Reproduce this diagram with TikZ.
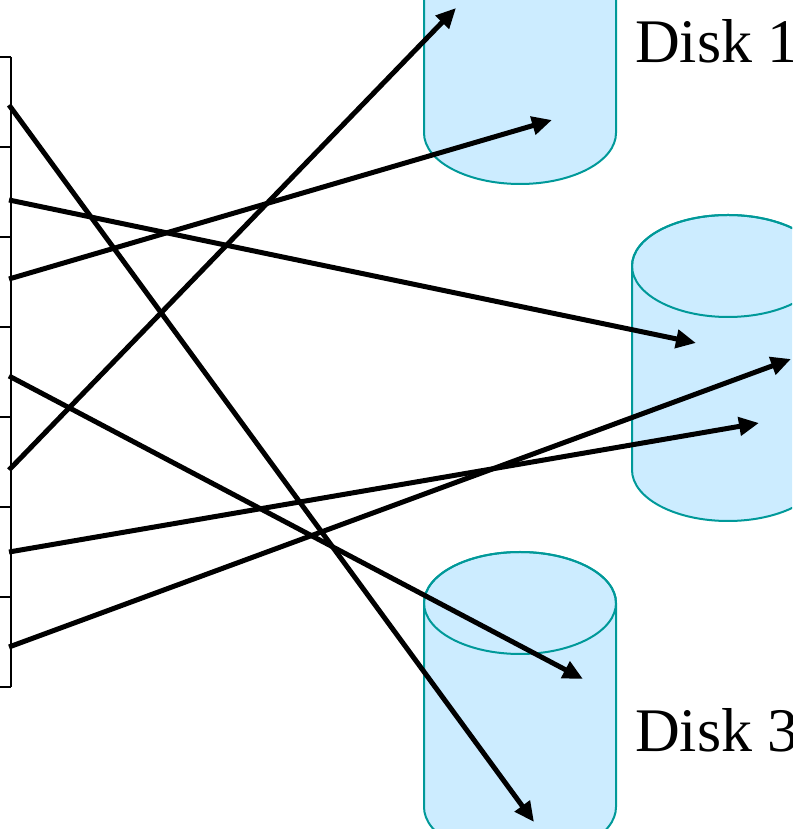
\documentclass[tikz,border=0pt]{standalone}
\usepackage{fontspec}
\setmainfont{Liberation Serif}
\usetikzlibrary{arrows.meta}
\definecolor{diskfill}{RGB}{204,236,255}
\definecolor{diskedge}{RGB}{0,153,153}
\tikzset{
  diskbody/.style={fill=diskfill,draw=diskedge,line width=2pt},
  diskrim/.style={draw=diskedge,line width=2pt},
  blockline/.style={line width=2.5pt,black},
  arr/.style={line width=5pt,black,-{Triangle[length=20pt,width=18pt]}},
  disklabel/.style={anchor=base west,inner sep=0pt,font=\fontsize{62}{70}\selectfont}
}
\newcommand\drawdisk[3]{%
  \path[diskbody] (#1-96,#2) -- (#1-96,#3)
    arc[start angle=180,end angle=360,x radius=96pt,y radius=51pt]
    -- (#1+96,#2)
    arc[start angle=0,end angle=180,x radius=96pt,y radius=51pt] -- cycle;
  \draw[diskrim] (#1,#2) ellipse[x radius=96pt,y radius=51pt];
}
\begin{document}
\begin{tikzpicture}[x=1pt,y=1pt]
\path[use as bounding box] (0,0) rectangle (792,829);
\clip (0,0) rectangle (792,829);
% disks
\drawdisk{520}{900}{696}
\drawdisk{728}{563}{359}
\drawdisk{520}{226}{22}
\node[disklabel] (d1) at (635,766) {Disk 1};
\node[disklabel] (d3) at (635,77) {Disk 3};
% block column
\coordinate (top) at (11,772);
\coordinate (bot) at (11,142);
\draw[blockline] (top) -- (bot);
\foreach \y [count=\i] in {772,682,592,502,412,322,232,142}{
  \coordinate (tk\i) at (0,\y);
  \draw[blockline] (tk\i) -- (11,\y);
}
% start and end points
\coordinate (s1) at (9,724);
\coordinate (s2) at (9,629);
\coordinate (s3) at (9,550);
\coordinate (s4) at (9,453);
\coordinate (s5) at (9,359);
\coordinate (s6) at (9,277);
\coordinate (s7) at (9,182);
\coordinate (e1) at (534,7);
\coordinate (e2) at (696,486);
\coordinate (e3) at (552,709);
\coordinate (e4) at (583,150);
\coordinate (e5) at (456,821);
\coordinate (e6) at (759,406);
\coordinate (e7) at (791,470);
\foreach \i in {1,...,7}{
  \draw[arr] (s\i) -- (e\i);
}
\end{tikzpicture}
\end{document}
